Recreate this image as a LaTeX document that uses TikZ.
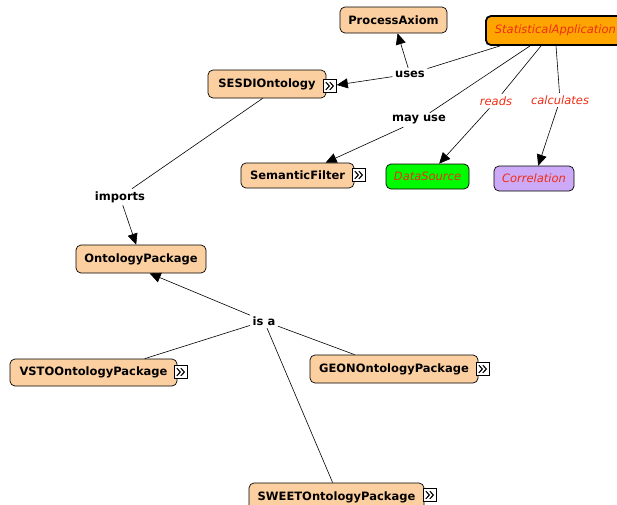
\documentclass[tikz,border=0pt]{standalone}
\usepackage{fontspec}
\setmainfont{DejaVu Sans}
\usetikzlibrary{arrows.meta,calc}

\definecolor{peach}{RGB}{252,207,160}
\definecolor{appfill}{RGB}{255,165,0}
\definecolor{srcfill}{RGB}{0,250,0}
\definecolor{corrfill}{RGB}{205,170,248}
\definecolor{linktext}{RGB}{240,45,20}

\tikzset{
  lblfont/.style={font=\fontsize{11.5}{13}\selectfont#1},
  concept/.style={draw=black, line width=0.7pt, rounded corners=5pt, fill=peach,
    lblfont=\bfseries, inner sep=0pt, minimum height=27pt},
  instance/.style={concept, lblfont=\itshape, text=linktext},
  linkword/.style={lblfont=\bfseries, inner sep=2.5pt},
  linkitalic/.style={lblfont=\itshape, text=linktext, inner sep=2.5pt},
  conn/.style={draw=black, line width=0.6pt},
  arr/.style={conn, -{Triangle[width=10pt,length=11pt]}},
  expander/.style={draw=black, fill=white, line width=0.6pt, minimum size=13pt, inner sep=0pt,
    path picture={
      \draw[line width=1.1pt] ($(path picture bounding box.center)+(-4.2pt,3.8pt)$) -- ++(3.6pt,-3.8pt) -- ++(-3.6pt,-3.8pt);
      \draw[line width=1.1pt] ($(path picture bounding box.center)+(-0.2pt,3.8pt)$) -- ++(3.6pt,-3.8pt) -- ++(-3.6pt,-3.8pt);
    }},
}

\begin{document}
\begin{tikzpicture}[x=1pt,y=-1pt]
\useasboundingbox (0,0) rectangle (617,504);
\clip (0,0) rectangle (617,504);

% concepts
\node[concept, minimum width=107pt, minimum height=26pt] (pa) at (393.5,20) {ProcessAxiom};
\node[concept, line width=1.8pt, fill=appfill, lblfont=\itshape,
      text=linktext, anchor=west, minimum height=29pt, inner xsep=9pt, align=left,
      text width=160pt] (stat) at (485,30.5) {StatisticalApplication};
\node[concept, minimum width=118pt, minimum height=28pt] (sesdi) at (267,84) {SESDIOntology};
\node[expander] (sesdiicon) at (330,86) {};
\node[concept, minimum width=113pt, minimum height=25pt] (sf) at (297.5,175.5) {SemanticFilter};
\node[expander] (sficon) at (359,175) {};
\node[instance, fill=srcfill, minimum width=83pt, minimum height=25pt] (ds) at (427.5,176.5) {DataSource};
\node[instance, fill=corrfill, minimum width=80pt, minimum height=25pt] (corr) at (534,178.5) {Correlation};
\node[concept, minimum width=130pt, minimum height=28pt] (op) at (141,259) {OntologyPackage};
\node[concept, minimum width=167pt] (vsto) at (93.5,372.5) {VSTOOntologyPackage};
\node[expander] (vstoicon) at (181,372) {};
\node[concept, minimum width=168pt, minimum height=28pt] (geon) at (394,369) {GEONOntologyPackage};
\node[expander] (geonicon) at (483,369) {};
\node[concept, minimum width=175pt, minimum height=28pt] (sweet) at (336.5,497) {SWEETOntologyPackage};
\node[expander] (sweeticon) at (430,495) {};

% linking words
\node[linkword] (uses) at (410,74) {uses};
\node[linkword] (mayuse) at (419,120) {may use};
\node[linkitalic] (reads) at (496,101) {reads};
\node[linkitalic] (calc) at (560,100) {calculates};
\node[linkword] (imports) at (120,197) {imports};
\node[linkword] (isa) at (264,321) {is a};

% connectors
\draw[conn] ([xshift=15pt]stat.south west) -- (uses);
\draw[arr] (uses) -- (pa);
\draw[arr] (uses) -- (sesdiicon);
\draw[conn] ([xshift=45pt]stat.south west) -- (mayuse);
\draw[arr] (mayuse) -- (sf);
\draw[conn] ([xshift=56pt]stat.south west) -- (reads);
\draw[arr] (reads) -- (ds);
\draw[conn] ([xshift=71pt]stat.south west) -- (calc);
\draw[arr] (calc) -- (corr);
\draw[conn] ([xshift=55pt]sesdi.south west) -- (imports);
\draw[arr] (imports) -- (op);
\draw[conn] ([xshift=135pt]vsto.north west) -- (isa);
\draw[conn] ([xshift=45pt]geon.north west) -- (isa);
\draw[conn] ([xshift=84pt]sweet.north west) -- (isa);
\draw[arr] (isa) -- ([xshift=74pt]op.south west);
\end{tikzpicture}
\end{document}
